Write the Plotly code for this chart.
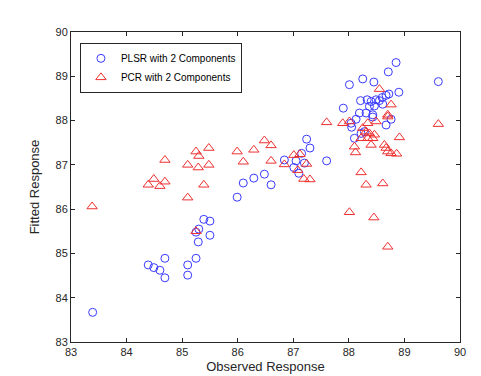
import plotly.graph_objects as go

plsr_obs = [83.39, 84.39, 84.49, 84.60, 84.69, 84.69, 85.10, 85.10, 85.25, 85.29,
            85.25, 85.30, 85.39, 85.50, 85.50, 85.99, 86.10, 86.29, 86.48, 86.60,
            86.84, 87.01, 87.10, 87.05, 87.15, 87.24, 87.30, 87.20, 87.60, 88.85,
            88.71, 89.61, 88.25, 88.45, 88.01, 88.90, 87.90, 88.21, 88.33, 88.40,
            88.49, 88.60, 88.67, 88.72, 88.37, 88.46, 88.61, 88.31, 88.19, 88.43,
            88.13, 88.04, 88.43, 88.67, 88.76, 88.10, 88.22, 88.28, 88.05, 88.55]
plsr_fit = [83.67, 84.74, 84.68, 84.62, 84.89, 84.45, 84.74, 84.51, 84.89, 85.26,
            85.48, 85.55, 85.77, 85.73, 85.41, 86.27, 86.59, 86.70, 86.79, 86.55,
            87.11, 86.94, 86.81, 87.09, 87.26, 87.58, 87.38, 87.04, 87.09, 89.31,
            89.10, 88.88, 88.94, 88.87, 88.81, 88.64, 88.28, 88.45, 88.47, 88.43,
            88.47, 88.52, 88.57, 88.60, 88.32, 88.33, 88.37, 88.17, 88.17, 88.13,
            88.03, 87.94, 88.08, 87.90, 88.03, 87.60, 87.71, 87.75, 87.85, 88.45]

pcr_obs = [83.38, 84.69, 84.39, 84.49, 84.60, 84.69, 85.10, 85.29, 85.10, 85.39,
           85.25, 85.30, 85.25, 85.48, 85.48, 85.99, 86.10, 86.29, 86.48, 86.60,
           86.60, 86.84, 87.01, 87.12, 87.24, 87.19, 87.30, 87.08, 87.60, 87.89,
           88.01, 88.34, 88.49, 88.70, 88.25, 88.31, 88.37, 88.46, 88.22, 88.34,
           88.43, 88.91, 88.10, 88.12, 88.40, 88.64, 88.67, 88.70, 88.76, 88.86,
           88.22, 88.31, 88.61, 88.01, 88.45, 88.70, 89.61, 88.55, 88.76, 88.70]
pcr_fit = [86.06, 87.11, 86.55, 86.68, 86.52, 86.62, 87.00, 86.94, 86.26, 86.55,
           87.30, 87.20, 85.50, 87.38, 87.00, 87.30, 87.07, 87.34, 87.55, 87.44,
           87.09, 87.01, 87.22, 87.24, 87.02, 86.68, 86.67, 86.88, 87.96, 87.94,
           87.98, 87.94, 87.98, 88.09, 87.83, 87.75, 87.71, 87.68, 87.60, 87.60,
           87.60, 87.62, 87.41, 87.28, 87.45, 87.45, 87.38, 87.30, 87.26, 87.25,
           86.83, 86.55, 86.58, 85.93, 85.81, 85.15, 87.92, 88.71, 88.36, 88.13]

series_names = ["PLSR with 2 Components", "PCR with 2 Components"]
x_ticks = [83, 84, 85, 86, 87, 88, 89, 90]
y_ticks = [83, 84, 85, 86, 87, 88, 89, 90]

fig = go.Figure()
fig.add_trace(go.Scatter(
    x=plsr_obs, y=plsr_fit, mode="markers", name=series_names[0],
    marker=dict(symbol="circle-open", size=8, color="#3a3aff", line=dict(width=1, color="#3a3aff")),
))
fig.add_trace(go.Scatter(
    x=pcr_obs, y=pcr_fit, mode="markers", name=series_names[1],
    marker=dict(symbol="triangle-up-open", size=9, color="#ee3030", line=dict(width=1, color="#ee3030")),
))

axis_common = dict(
    showgrid=False, zeroline=False, showline=True, mirror="ticks",
    linecolor="#262626", linewidth=1, ticks="inside", ticklen=4,
    tickcolor="#262626", tickfont=dict(family="Liberation Sans, Arial", size=11, color="#262626"),
    title_font=dict(family="Liberation Sans, Arial", size=13, color="#262626"),
)
fig.update_xaxes(range=[83, 90], tickvals=x_ticks, ticktext=[str(v) for v in x_ticks],
                 title_text="Observed Response", title_standoff=4, **axis_common)
fig.update_yaxes(range=[83, 90], tickvals=y_ticks, ticktext=[str(v) for v in y_ticks],
                 title_text="Fitted Response", title_standoff=12, **axis_common)

fig.update_layout(
    width=481, height=376,
    margin=dict(l=63, r=29, t=24, b=42),
    paper_bgcolor="white", plot_bgcolor="white",
    showlegend=True,
    legend=dict(x=0.023, y=0.965, xanchor="left", yanchor="top",
                bordercolor="#262626", borderwidth=1, bgcolor="white",
                font=dict(family="Liberation Sans, Arial", size=10, color="#000000"),
                tracegroupgap=0),
)

fig.write_html("out.html")
